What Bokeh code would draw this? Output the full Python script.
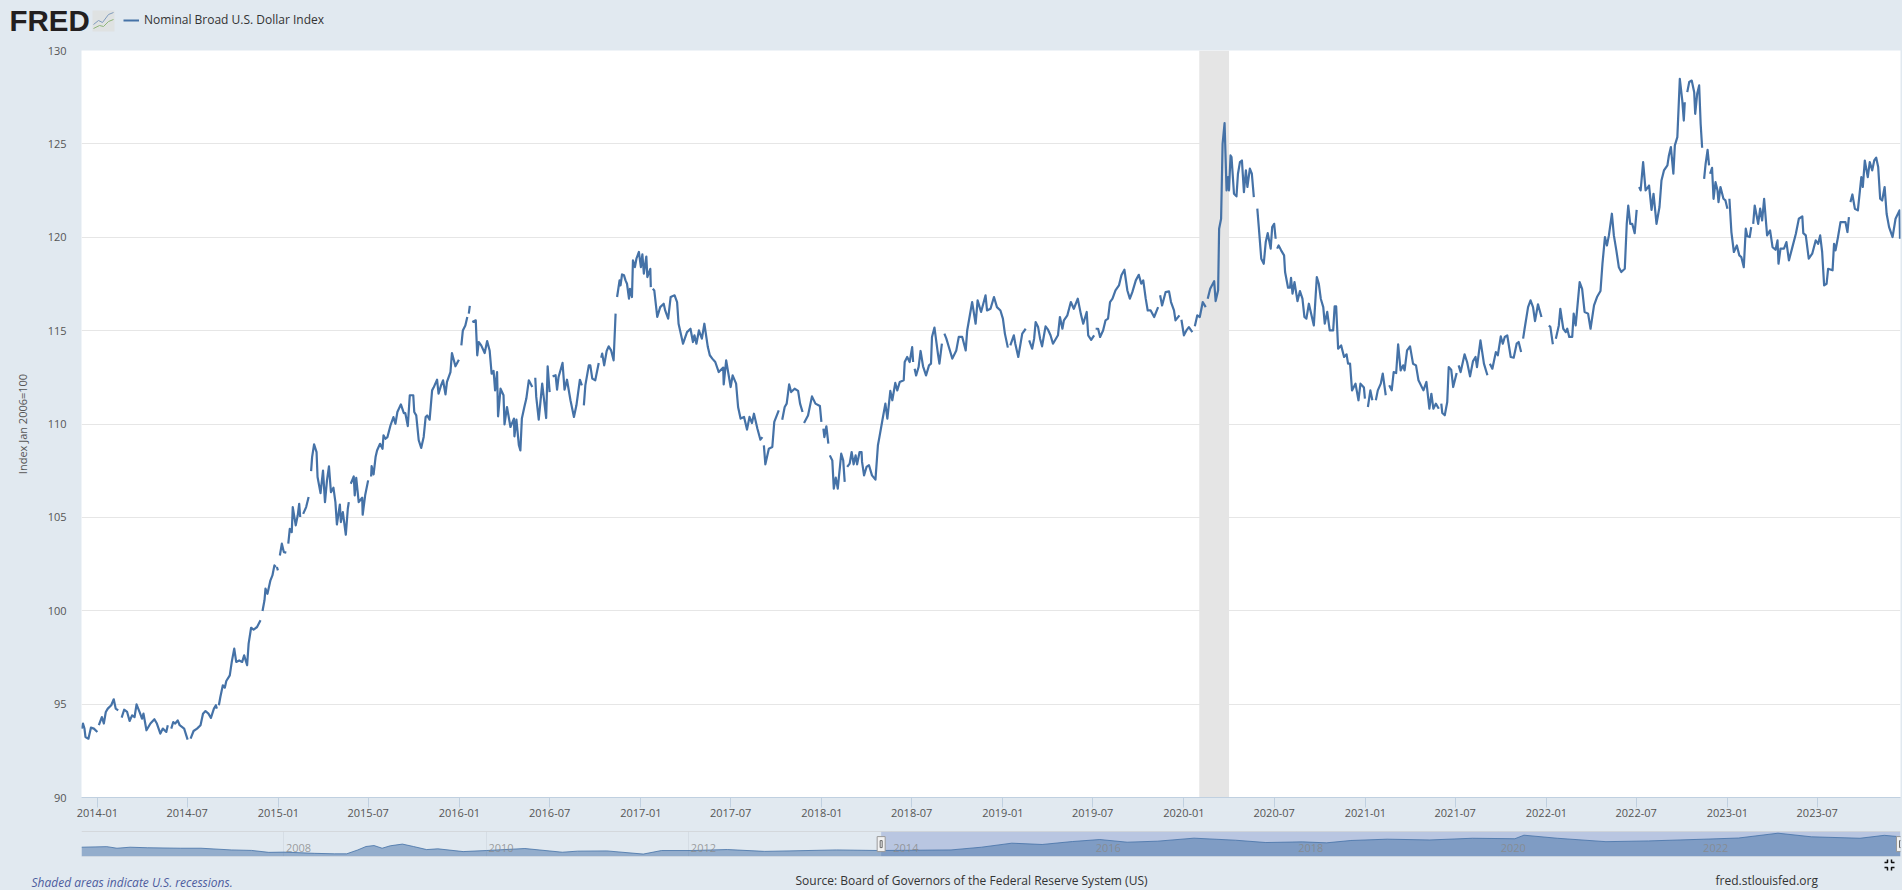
import numpy as np
import pandas as pd
from bokeh.embed import file_html
from bokeh.resources import INLINE
from bokeh.layouts import column
from bokeh.plotting import figure
from bokeh.core.properties import value
from bokeh.models import (FixedTicker, DatetimeTickFormatter, Range1d, Legend, LegendItem, Span, Grid)

SERIES_NAME = "Nominal Broad U.S. Dollar Index"
Y_TITLE = "Index Jan 2006=100"
BASE_DATE = "2014-01-01"

# days since BASE_DATE; None in the values marks a gap in the published series
obs_day = [
 -32,-29,-26,-24,-18,-13,-7,0,1,
 3,9,13,17,21,28,33,37,42,43,
 49,54,60,65,70,75,79,85,90,93,99,107,115,120,127,132,139,142,145,
 149,153,157,162,166,175,182,185,
 188,194,201,208,213,218,224,229,235,239,241,243,
 245,248,253,257,260,267,271,276,280,286,292,296,302,305,310,315,322,329,331,
 333,337,339,343,349,353,357,360,361,
 362,364,366,
 368,372,376,381,383,
 385,388,392,394,400,404,407,409,412,
 415,421,426,428,
 431,433,437,442,444,450,455,459,463,467,471,476,480,483,489,491,495,501,505,507,509,
 511,517,519,522,527,534,535,540,546,549,
 552,553,557,561,564,570,575,577,581,585,591,597,601,605,612,618,621,626,630,637,639,643,648,653,658,662,665,670,675,678,685,688,693,697,702,705,712,715,722,729,731,
 734,737,742,746,747,
 749,751,753,
 756,763,766,769,774,781,786,791,795,799,802,806,808,813,819,821,826,833,840,841,845,850,853,856,861,865,870,877,880,
 883,885,890,897,905,908,912,915,
 918,924,927,930,938,942,947,954,961,966,973,977,979,
 981,984,991,994,998,1004,1011,1013,
 1016,1018,1022,1027,1031,1036,1041,1045,1046,
 1048,1050,1053,1055,1058,1062,1065,1068,1072,1074,1078,1080,1084,1087,1092,1096,1099,1102,1107,1109,1115,1116,1118,
 1120,1123,1129,1135,1142,1145,1151,1156,1164,1169,1172,1181,1189,1196,1201,1204,1208,1213,1219,1224,1231,1235,1240,1246,1253,1262,1263,1268,1277,1281,1288,1292,1297,1304,1310,1315,1320,1324,1331,1337,1341,1342,
 1344,1347,1354,1361,1365,1374,1377,
 1381,1386,1390,1395,1399,1406,1413,1417,1422,1423,
 1425,1433,1441,1448,1457,1460,1462,
 1464,1466,1470,1474,1475,
 1477,1482,1485,1489,1493,1500,1504,1507,1509,
 1512,1517,1521,1525,1529,1532,1537,1541,1542,1546,1551,1556,1562,1569,1574,1577,1583,1589,1593,1599,1603,1609,1613,1618,1626,1628,1633,1638,1643,1645,1646,
 1648,1651,1656,1660,1665,1671,1677,1681,1683,1688,1695,1698,1703,1705,
 1708,1712,1717,1724,1732,1737,1744,1751,1754,1764,1771,1775,1782,1791,1794,1801,1808,1814,1821,1826,1830,1836,1838,
 1841,1848,1851,1857,1865,1872,1875,
 1879,1885,1889,1892,1897,1901,1905,1912,1917,1922,1927,1937,1941,1946,1949,1956,1963,1969,1977,1983,1988,1995,1998,2004,2010,2011,
 2013,2018,2022,2028,2033,2038,2042,2047,2053,2060,2065,2071,2077,2082,2087,2094,2100,2105,2109,2114,2118,2124,2131,2139,2141,
 2143,2147,2154,2161,2165,2171,2174,2182,2184,
 2186,2191,2196,2201,2208,2210,
 2213,2218,2223,2229,2235,2237,
 2239,2244,2252,2255,2260,2262,2266,2269,2273,2277,2280,2282,2285,2287,2292,2297,2300,2304,2308,2312,2316,2319,2324,2328,2332,2335,
 2339,2342,2347,2352,2356,2360,2366,2369,2373,2376,2377,
 2379,2382,2387,2393,2395,2401,2405,2407,2410,2414,2420,2425,2430,2434,2438,2443,2453,2459,2463,2467,2472,2475,2480,2485,2492,2495,2498,2502,2508,2514,2519,2522,2526,2530,2537,2543,2547,2554,2556,2559,
 2562,2567,2571,2574,
 2578,2582,2588,2592,2598,2601,
 2605,2610,2614,2619,2623,2628,2633,2636,2641,2647,2653,2659,2664,2674,2680,2686,2690,2694,2699,2705,2707,
 2710,2712,2717,2722,2725,2730,2734,2741,2743,
 2745,2749,2757,2762,2768,2774,2779,2782,2789,2796,2803,2805,
 2808,2813,2820,2824,2830,2834,2838,2843,2850,2856,2862,2866,2871,2873,
 2875,2878,2885,2890,2895,2899,2905,2912,2914,
 2918,2923,
 2927,2930,2935,2938,
 2941,2947,2950,2956,2961,2964,2968,2974,2977,2981,2989,2994,2999,3006,3011,3018,3024,3031,3035,3040,3044,3048,3054,3058,3063,3068,3073,3080,3084,3087,3091,3095,3100,3104,3106,
 3109,3112,3117,3122,3129,3134,3138,3144,3150,3154,3159,3166,3169,3173,3178,3181,3186,3191,3196,3199,3201,3203,
 3206,3210,3215,3220,3222,3226,3230,3233,3236,3238,
 3240,3243,3247,3250,3251,
 3252,3256,3259,3263,3267,3269,3273,3279,3283,3287,3289,
 3291,3295,3300,3306,3311,3315,3320,3324,3327,3332,3335,3337,
 3339,3342,3349,3353,3357,3361,3367,3373,3378,3384,3388,3390,3394,3401,3406,3411,3418,3425,3431,3438,3440,3445,3451,3458,3465,3470,3474,3478,3482,3487,3490,3499,3502,3505,3510,3515,3525,3529,3532,3533,
 3535,3539,3544,3550,3557,3560,3564,3570,3574,3579,3583,3587,3591,3595,3599,3604,3608,3613,3620,3626,3634,3635,
]
index_value = [
 93.69,93.96,93.69,93.24,93.15,93.74,93.69,93.51,None,
 93.87,94.31,93.96,94.58,94.76,94.94,95.26,94.76,94.67,None,
 94.28,94.70,94.58,94.10,94.40,94.31,94.99,94.58,94.22,94.49,93.60,93.96,94.19,93.96,93.42,93.69,93.51,93.87,None,
 93.69,94.04,93.96,94.13,93.87,93.69,93.10,None,
 93.15,93.56,93.69,93.87,94.49,94.63,94.49,94.26,94.76,94.94,94.76,None,
 94.94,95.38,96.01,95.88,96.24,96.54,97.26,97.97,97.26,97.34,97.26,97.61,97.08,98.24,99.09,98.99,99.13,99.49,None,
 99.99,100.56,101.18,100.91,101.63,101.89,102.43,102.34,None,
 102.34,102.16,None,
 102.96,103.59,103.14,103.11,None,
 103.59,104.39,104.21,105.55,104.57,105.11,105.73,105.02,None,
 105.19,105.55,106.09,None,
 107.48,108.23,108.91,108.49,107.16,106.30,107.51,105.82,106.98,107.73,106.35,106.59,105.82,104.62,105.69,104.75,105.28,104.07,105.46,105.82,None,
 106.80,107.19,106.18,107.12,105.82,106.05,105.14,106.18,106.98,None,
 107.19,107.75,107.30,108.23,108.58,108.94,108.67,109.39,109.21,109.30,109.92,110.37,110.01,110.64,111.05,110.58,110.58,109.89,111.54,111.54,110.64,110.46,109.13,108.72,109.31,110.38,110.46,110.23,111.80,111.95,112.37,111.62,112.07,112.34,111.59,112.25,112.78,113.80,113.09,113.44,None,
 114.21,115.01,115.28,115.73,None,
 115.91,116.33,None,
 115.46,115.55,113.68,114.39,114.21,113.80,114.44,113.94,112.69,112.84,111.80,112.78,110.41,111.89,111.54,109.98,110.91,109.84,110.29,109.34,110.23,108.86,108.59,110.29,110.91,111.36,112.34,111.98,None,
 112.48,111.45,110.23,112.16,110.32,113.09,111.71,None,
 112.55,112.61,111.84,112.52,113.27,111.84,112.37,111.27,110.38,111.00,112.37,112.07,None,
 111.00,112.07,113.14,113.14,112.43,112.34,113.27,None,
 113.55,113.77,113.14,113.91,114.16,113.94,113.41,115.91,None,
 116.80,117.15,117.69,117.42,118.01,117.96,117.69,117.51,116.71,117.24,116.80,118.76,118.40,118.85,119.21,118.40,119.08,118.05,118.97,117.87,118.31,117.33,None,
 117.24,117.15,115.73,116.26,116.44,116.08,115.64,116.80,116.89,116.53,115.37,114.30,114.92,115.10,114.39,114.75,114.30,115.01,114.57,115.37,114.12,113.68,113.50,113.32,112.78,113.02,112.12,113.41,111.98,112.60,112.16,110.91,110.29,110.38,109.70,110.38,110.05,110.55,109.75,109.16,109.30,None,
 108.86,107.84,108.68,108.77,110.11,110.73,None,
 110.23,110.91,111.09,112.12,111.71,111.89,111.77,111.09,110.64,None,
 110.05,110.46,111.48,111.09,110.96,110.11,None,
 109.75,109.30,109.88,108.95,None,
 108.32,108.05,106.54,107.13,106.54,108.41,108.05,106.90,None,
 107.70,107.88,108.50,107.84,108.32,107.84,108.50,108.50,107.97,107.25,107.70,107.79,107.25,107.02,108.86,109.30,110.20,111.09,110.29,111.77,111.27,112.20,111.80,112.25,112.34,113.32,113.59,113.32,114.12,113.32,None,
 112.96,112.60,113.05,113.91,113.09,112.60,113.14,113.23,114.66,115.16,113.76,113.23,114.30,None,
 114.84,114.57,114.12,113.50,113.94,114.66,114.66,113.94,115.01,116.53,115.37,116.62,116.00,116.89,116.08,116.17,116.80,116.26,116.08,115.64,114.84,114.09,None,
 114.21,114.75,114.30,113.59,114.84,115.10,None,
 114.48,114.03,114.57,115.46,115.19,114.57,114.16,115.23,115.05,114.75,114.30,114.75,115.73,115.10,115.55,115.82,116.53,116.17,116.71,115.91,115.37,116.00,114.75,114.51,114.75,None,
 115.10,115.10,114.66,115.01,115.55,115.64,116.53,116.71,117.15,117.42,117.96,118.26,117.15,116.71,117.06,117.69,117.99,117.51,117.69,116.71,116.08,116.08,115.73,116.26,None,
 116.89,116.35,117.06,117.10,116.53,116.08,115.55,115.82,None,
 115.58,114.75,115.01,115.19,114.92,None,
 115.23,115.82,115.73,116.53,116.26,None,
 116.71,117.24,117.65,116.58,117.16,120.46,120.99,125.00,126.11,122.51,123.22,122.51,124.38,124.29,122.33,122.19,123.40,124.02,124.11,122.42,123.58,122.69,123.67,123.40,122.15,None,
 121.53,120.54,118.85,118.58,119.74,120.22,119.39,120.54,120.72,119.92,None,
 119.39,119.56,119.30,119.03,118.14,117.30,117.30,117.83,116.98,117.60,116.58,117.12,116.71,115.73,115.64,116.44,115.28,117.87,117.51,116.71,116.26,115.37,116.00,115.01,115.01,116.30,116.30,114.03,114.21,113.59,113.73,113.23,113.23,111.80,112.16,111.27,112.16,111.95,111.36,None,
 110.91,111.80,111.27,None,
 111.27,111.80,112.16,112.70,111.54,None,
 112.07,111.80,112.78,112.73,114.27,112.87,113.14,112.87,113.94,114.16,113.23,113.14,112.34,111.80,112.25,110.82,111.62,110.82,111.09,110.82,None,
 111.09,110.59,110.47,111.18,113.05,112.91,111.98,112.73,None,
 113.14,112.78,113.73,113.32,112.55,113.37,113.59,113.05,114.48,113.23,112.61,None,
 113.23,112.96,113.85,113.68,114.69,114.30,114.66,114.75,113.59,113.55,114.30,114.39,113.85,None,
 114.57,115.10,116.26,116.62,116.26,115.51,116.41,115.73,None,
 115.46,None,
 115.28,115.19,114.27,None,
 114.57,115.28,116.17,115.10,114.92,115.10,114.66,114.66,115.91,115.28,117.60,117.24,116.00,115.91,115.10,116.35,116.80,117.12,118.58,120.01,119.56,120.10,121.26,120.10,119.30,118.40,118.14,118.31,120.72,121.70,120.72,120.72,120.22,121.47,None,
 122.69,122.51,124.02,122.51,122.77,121.47,122.33,120.72,121.62,123.04,123.58,123.85,124.38,124.83,123.40,124.92,125.36,128.48,127.32,126.25,127.23,None,
 127.77,128.31,128.39,127.77,126.61,127.68,128.13,126.08,124.79,None,
 123.13,123.93,124.68,123.85,None,
 123.40,123.72,122.06,122.95,122.51,121.88,122.69,122.06,121.97,121.53,None,
 122.06,120.28,119.21,119.56,119.03,118.94,118.40,120.46,120.05,120.01,120.54,None,
 120.72,121.70,120.72,121.53,120.90,122.06,120.10,120.37,119.47,119.33,119.83,118.58,119.39,119.39,119.74,118.76,119.47,120.19,120.99,121.12,120.22,120.10,118.85,119.12,119.83,119.65,120.10,119.21,117.42,117.51,118.31,118.23,119.65,119.30,120.01,120.81,120.81,120.28,121.08,None,
 121.88,122.29,121.53,121.44,123.22,122.69,124.11,123.22,124.02,123.58,124.11,124.26,123.76,122.06,121.97,122.69,121.26,120.54,120.01,120.99,121.44,119.92,
]

recession_start = ["2020-02-01"]
recession_end = ["2020-04-01"]
y_ticks = [90, 95, 100, 105, 110, 115, 120, 125, 130]
x_tick_labels = ["2014-01", "2014-07", "2015-01", "2015-07", "2016-01", "2016-07", "2017-01", "2017-07",
                 "2018-01", "2018-07", "2019-01", "2019-07", "2020-01", "2020-07", "2021-01", "2021-07",
                 "2022-01", "2022-07", "2023-01", "2023-07"]

# overview strip under the chart: the whole series since 2006
nav_year = [2006.00, 2006.25, 2006.35, 2006.48, 2006.65, 2006.98, 2007.18, 2007.48, 2007.68, 2007.85, 2008.00,
            2008.30, 2008.50, 2008.62, 2008.73, 2008.81, 2008.89, 2008.97, 2009.05, 2009.17, 2009.28, 2009.41,
            2009.52, 2009.77, 2010.00, 2010.38, 2010.75, 2010.90, 2011.19, 2011.55, 2011.73, 2012.03, 2012.38,
            2012.75, 2013.46, 2013.88, 2014.59, 2014.89, 2015.19, 2015.49, 2015.79, 2016.06, 2016.33, 2016.63,
            2016.99, 2017.40, 2017.70, 2018.06, 2018.30, 2018.54, 2018.90, 2019.32, 2019.74, 2020.16, 2020.25,
            2020.58, 2021.06, 2021.48, 2022.02, 2022.37, 2022.76, 2023.09, 2023.57, 2023.81, 2023.97]
nav_value = [99.6, 100.8, 97.5, 99.6, 98.5, 97.5, 97.5, 94.0, 93.0, 89.0, 89.5,
             87.0, 86.0, 86.0, 94.0, 101.0, 103.0, 97.5, 102.5, 106.0, 101.0, 94.7,
             96.3, 90.6, 92.8, 96.9, 89.3, 91.5, 92.0, 85.5, 92.8, 92.8, 94.8,
             91.0, 94.0, 92.8, 94.0, 99.6, 107.9, 105.2, 111.3, 115.4, 109.9, 112.0,
             118.2, 114.0, 109.2, 110.6, 108.6, 113.4, 116.1, 114.5, 118.0, 117.0, 124.3,
             118.0, 111.0, 112.5, 116.0, 118.5, 128.4, 121.0, 118.0, 124.0, 121.0]
nav_label_year = [2008, 2010, 2012, 2014, 2016, 2018, 2020, 2022]
nav_sel_start = 2013.9
nav_sel_end = 2023.97

BG = "#e1e9f0"
LINE = "#4572a7"
FONT = "Open Sans"
TXT = "#333333"

base = pd.Timestamp(BASE_DATE)
dates = [base + pd.Timedelta(days=d) for d in obs_day]
values = [np.nan if v is None else v for v in index_value]


def strip(height, y_top):
    """A figure whose coordinates are page pixels, for the furniture around the chart."""
    f = figure(width=1902, height=height, output_backend="svg", toolbar_location=None,
               x_range=Range1d(0, 1902), y_range=Range1d(y_top + height, y_top),
               background_fill_color=BG, border_fill_color=BG, outline_line_color=None,
               min_border=0, min_border_left=0, min_border_right=0, min_border_top=0, min_border_bottom=0,
               x_axis_location=None, y_axis_location=None, frame_align=False)
    f.xgrid.visible = False
    f.ygrid.visible = False
    return f


# header: logo and legend
head = strip(38, 0)
head.text(x=[9], y=[20], text=["FRED"], text_font=value("Liberation Sans"), text_font_size="29.5px",
          text_font_style="bold", text_color="#231f20", text_baseline="middle")
head.quad(left=[92], right=[114], top=[10], bottom=[31], fill_color="#dfe2e2", line_color=None)
head.line([93, 98, 102, 108, 113], [24, 20, 22, 14, 12], line_color="#7f9bbd", line_width=1)
head.line([93, 99, 103, 108, 113], [28, 25, 26, 21, 19], line_color="#8fb57a", line_width=1)
key = head.line([np.nan, np.nan], [np.nan, np.nan], line_color=LINE, line_width=2)
head.add_layout(Legend(items=[LegendItem(label=SERIES_NAME, renderers=[key])], location=(119, 6),
                       background_fill_alpha=0, border_line_alpha=0, glyph_width=16, glyph_height=12,
                       label_text_font=FONT, label_text_font_size="12px", label_text_color=TXT,
                       margin=0, padding=4, label_standoff=5))

# main chart
p = figure(width=1902, height=787, output_backend="svg", toolbar_location=None,
           x_axis_type="datetime",
           x_range=Range1d(dates[0], dates[-1] + pd.Timedelta(days=1)),
           y_range=Range1d(90, 130),
           background_fill_color="white", border_fill_color=BG, outline_line_color=None,
           min_border_left=81, min_border_right=2, min_border_top=12, min_border_bottom=28, frame_align=False)

p.quad(left=pd.to_datetime(recession_start), right=pd.to_datetime(recession_end),
       bottom=90, top=130, fill_color="#e5e5e5", line_color=None)
p.line(dates, values, line_color=LINE, line_width=2.2, line_join="round")

p.xgrid.visible = False
p.ygrid.ticker = FixedTicker(ticks=y_ticks)
p.ygrid.grid_line_color = "#e6e6e6"
p.ygrid.grid_line_width = 1

ya = p.yaxis[0]
ya.ticker = FixedTicker(ticks=y_ticks)
ya.axis_line_color = None
ya.major_tick_line_color = None
ya.minor_tick_line_color = None
ya.major_tick_out = 0
ya.major_label_standoff = 15
ya.major_label_text_font = FONT
ya.major_label_text_font_size = "11px"
ya.major_label_text_color = "#555555"
ya.axis_label = Y_TITLE
ya.axis_label_text_font = FONT
ya.axis_label_text_font_size = "11px"
ya.axis_label_text_font_style = "normal"
ya.axis_label_text_color = "#555555"
ya.axis_label_standoff = 15

xa = p.xaxis[0]
xa.ticker = FixedTicker(ticks=[pd.Timestamp(t).value / 1e6 for t in x_tick_labels])
xa.formatter = DatetimeTickFormatter(years="%Y-%m", months="%Y-%m", days="%Y-%m", hours="%Y-%m",
                                     minutes="%Y-%m", seconds="%Y-%m", milliseconds="%Y-%m",
                                     microseconds="%Y-%m", context=None)
xa.axis_line_color = "#c0d0e0"
xa.major_tick_line_color = "#c0d0e0"
xa.minor_tick_line_color = None
xa.major_tick_in = 0
xa.major_tick_out = 10
xa.major_label_standoff = 1
xa.major_label_text_font = FONT
xa.major_label_text_font_size = "11px"
xa.major_label_text_color = "#555555"

# overview strip
nav = figure(width=1902, height=33, output_backend="svg", toolbar_location=None,
             x_range=Range1d(2006.0, nav_sel_end), y_range=Range1d(80.5, 131.9),
             background_fill_color=BG, border_fill_color=BG, outline_line_color=None,
             min_border_left=81, min_border_right=2, min_border_top=6, min_border_bottom=2,
             x_axis_location=None, y_axis_location=None, frame_align=False)
nav.xgrid.visible = False
nav.ygrid.visible = False
nav.add_layout(Grid(dimension=0, ticker=FixedTicker(ticks=nav_label_year), grid_line_color="#d5dde5"))
nav.quad(left=[nav_sel_start], right=[nav_sel_end], bottom=80.5, top=131.9, fill_color="#b9c6e1", line_color=None)
nav.varea(x=nav_year, y1=80.5, y2=nav_value, fill_color=LINE, fill_alpha=0.5)
nav.line(nav_year, nav_value, line_color=LINE, line_width=1, line_alpha=0.8)
nav.text(x=nav_label_year, y=[99.0] * len(nav_label_year), text=[str(y) for y in nav_label_year],
         text_font=value(FONT), text_font_size="11px", text_color="#888888", text_alpha=0.8,
         text_baseline="middle", text_align="left", x_offset=2)
nav.add_layout(Span(location=131.9, dimension="width", line_color="#c8c8c8", line_width=1))
nav.add_layout(Span(location=80.5, dimension="width", line_color="#cfd6dc", line_width=1))
for hx in (nav_sel_start, nav_sel_end):
    nav.rect(x=[hx], y=[106], width=8, height=15, width_units="screen", height_units="screen",
             fill_color="#f2f2f2", line_color="#999999")
    nav.rect(x=[hx], y=[106], width=2, height=7, width_units="screen", height_units="screen",
             fill_alpha=0, line_color="#666666")

# footer
foot = strip(32, 858)
foot.text(x=[31], y=[882], text=["Shaded areas indicate U.S. recessions."], text_font=value(FONT),
          text_font_size="12px", text_font_style="italic", text_color="#4d5c9e", text_baseline="middle")
foot.text(x=[795, 1715], y=[880, 880],
          text=["Source: Board of Governors of the Federal Reserve System (US)", "fred.stlouisfed.org"],
          text_font=value(FONT), text_font_size="12px", text_color=TXT, text_baseline="middle")
foot.multi_line(xs=[[1884, 1887, 1887], [1891, 1891, 1894], [1884, 1887, 1887], [1891, 1891, 1894]],
                ys=[[862, 862, 859], [859, 862, 862], [867, 867, 870], [870, 867, 867]],
                line_color="#111111", line_width=1.5)

page = column(head, p, nav, foot, spacing=0)
html = file_html(page, INLINE)
html = html.replace("<head>", "<head><style>html,body{background:#e1e9f0;overflow:hidden}</style>", 1)
open("out.html", "w").write(html)
